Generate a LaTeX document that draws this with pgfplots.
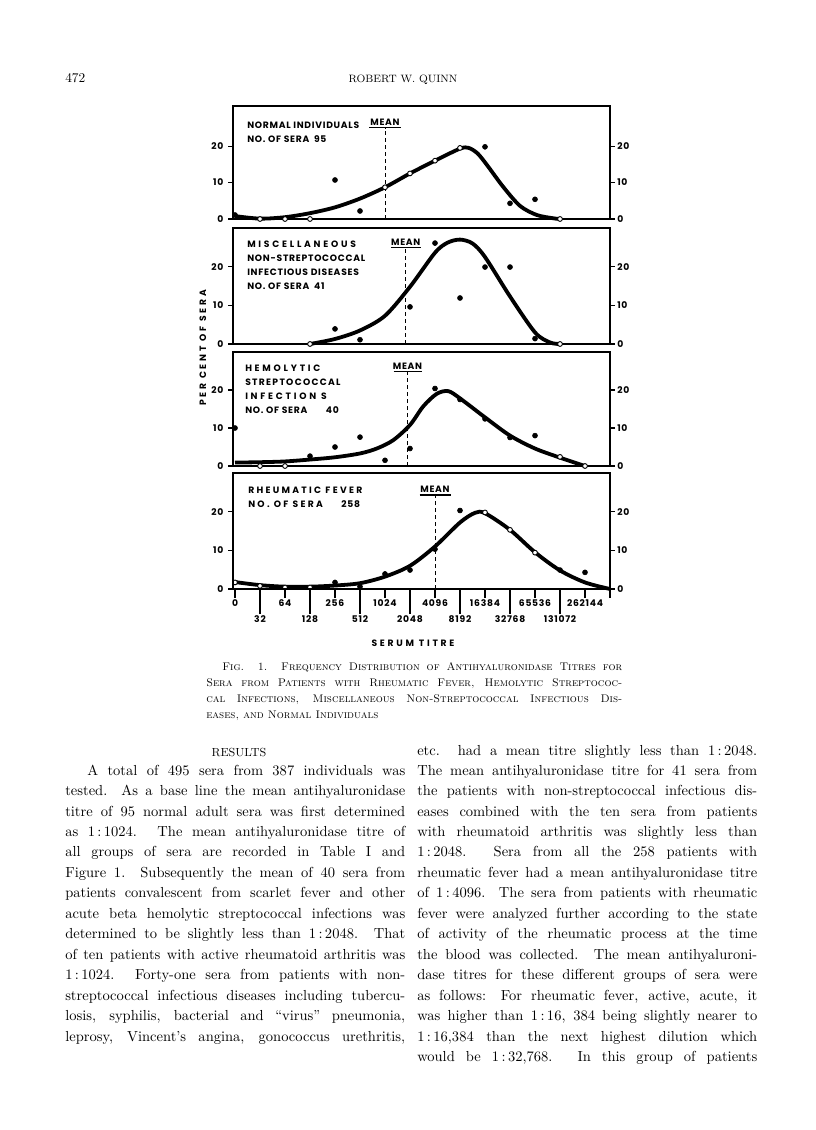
\documentclass[border=0pt]{standalone}
\usepackage{fontspec}
\usepackage{pgfplots}
\pgfplotsset{compat=1.18}
\newfontfamily\lett{Poppins}[LetterSpace=8]
\newlength\px
\setlength\px{0.75pt}
\newcommand\lf{\lett\bfseries\fontsize{6.9pt}{10.5pt}\selectfont}
\newcommand\bodyfont{\fontsize{10.9pt}{14pt}\selectfont\addfontfeature{FakeBold=0.2}}
\newcommand\capfont{\fontsize{8.3pt}{10pt}\selectfont\scshape\addfontfeature{FakeBold=0.15}}
\newcommand\ratio[2]{#1\thinspace:\thinspace#2}
% body lines: left x=65, right x=417, column width 340px
\newcommand\Lline[2]{\node[anchor=base west,inner sep=0] at (65,-#1) {\bodyfont\makebox[340\px][s]{#2}};}
\newcommand\Rline[2]{\node[anchor=base west,inner sep=0] at (417,-#1) {\bodyfont\makebox[340\px][s]{#2}};}

\tikzset{
  meandash/.style={black, line width=1\px, dash pattern=on 4\px off 3\px},
  panellab/.style={anchor=north west, align=left, font=\lf, inner sep=0},
}
\pgfplotsset{
  panel/.style={
    scale only axis, width=282.75pt, anchor=north west,
    xmin=-0.08, xmax=15, ymin=0, ymax=30,
    axis line style={line width=1.1\px},
    ytick={0,10,20}, yticklabels={0,10,20},
    tick align=outside, major tick length=5\px,
    every tick/.style={black, line width=1.1\px},
    ytick pos=both, yticklabel pos=left,
    xtick=\empty,
    tick label style={font=\lf},
    /pgf/number format/assume math mode=true,
    clip=false,
  },
  curve/.style={black, line width=3.8\px, smooth, no markers},
  filled/.style={black, only marks, mark=*, mark size=2.5\px},
  open/.style={only marks, mark=*, mark size=2.4\px,
    mark options={fill=white, draw=black, line width=0.9\px}},
}
\newcommand\rightlabels{%
  \pgfplotsinvokeforeach{0,10,20}{%
    \node[anchor=west, font=\lf, inner sep=0] at ([xshift=7\px]axis cs:15,##1) {##1};}}

\begin{document}
\begin{tikzpicture}[x=0.75pt,y=0.75pt]
\useasboundingbox (0,0) rectangle (816,-1130);
\fill[white] (0,0) rectangle (816,-1130);

% page header
\node[anchor=base west, inner sep=0] at (65,-83) {\fontsize{10pt}{11pt}\selectfont\addfontfeature{FakeBold=0.3}472};
\node[anchor=base, inner sep=0] at (403,-83) {\fontsize{8pt}{10pt}\selectfont\addfontfeature{LetterSpace=8,FakeBold=0.3}ROBERT W. QUINN};

% panel 1: normal individuals
\begin{axis}[panel, at={(174.75pt,-79.5pt)}, height=84.75pt, ymax=31]
\addplot[curve] coordinates {(0,0.8) (1,0.1) (2,0.5) (3,1.6) (4,3.2) (5,5.6) (6,8.7)
  (7,12.5) (8,16) (9,19.3) (9.35,19.5) (9.7,18) (10.07,14.9) (10.73,8.8)
  (11.4,3.6) (12.07,1.1) (12.73,0.2) (13,0)};
\addplot[filled] coordinates {(0,1.1) (4,10.7) (5,2.2) (10,19.8) (11,4.3) (12,5.4)};
\addplot[open] coordinates {(1,0) (2,0) (3,0) (6,8.7) (7,12.5) (8,16) (9,19.5) (13,0)};
\draw[meandash] (axis cs:6,0) -- (axis cs:6,25.1);
\draw[line width=1.1\px] ([xshift=-16\px]axis cs:6,25.1) -- ([xshift=16\px]axis cs:6,25.1);
\node[font=\lf, anchor=south, inner sep=2\px] at (axis cs:6,25.1) {MEAN};
\node[panellab] at ([xshift=14\px,yshift=-16\px]rel axis cs:0,1)
  {NORMAL INDIVIDUALS\\NO. OF SERA\enspace 95};
\rightlabels
\end{axis}

% panel 2: miscellaneous
\begin{axis}[panel, at={(174.75pt,-171pt)}, height=87pt]
\addplot[curve] coordinates {(3,0) (4,1.3) (5,3.5) (6,7.3) (7,14.8) (8,23.6)
  (8.5,26.2) (9,27) (9.5,26) (10,22.5) (11,12.3) (12,3) (12.6,0.4) (13,0)};
\addplot[filled] coordinates {(4,3.9) (5,1.1) (7,9.6) (8,26.1) (9,11.9) (10,19.9) (11,19.9) (12,1.4)};
\addplot[open] coordinates {(3,0) (13,0)};
\draw[meandash] (axis cs:6.83,0) -- (axis cs:6.83,25);
\draw[line width=1.1\px] ([xshift=-15\px]axis cs:6.83,25) -- ([xshift=15\px]axis cs:6.83,25);
\node[font=\lf, anchor=south, inner sep=2\px] at (axis cs:6.83,25) {MEAN};
\node[panellab] at ([xshift=14\px,yshift=-13\px]rel axis cs:0,1)
  {{\addfontfeature{LetterSpace=30}MISCELLANEOUS}\\NON-STREPTOCOCCAL\\INFECTIOUS DISEASES\\NO. OF SERA\enspace 41};
\rightlabels
\end{axis}

% panel 3: hemolytic streptococcal infections
\begin{axis}[panel, at={(174.75pt,-264pt)}, height=85.5pt]
\addplot[curve] coordinates {(0,0.9) (1,1) (2,1.2) (3,1.7) (4,2.3) (5,3.3) (5.67,4.6)
  (6.33,6.8) (7,10.8) (7.53,15.7) (8.07,19) (8.53,19.7) (9,17.8) (10,12.8)
  (11,8) (12,4.6) (13,2.2) (14,0)};
\addplot[filled] coordinates {(0,10) (3,2.6) (4,5) (5,7.6) (6,1.5) (7,4.6) (8,20.4)
  (9,17.5) (10,12.4) (11,7.5) (12,8)};
\addplot[open] coordinates {(1,0) (2,0) (13,2.4) (14,0)};
\draw[meandash] (axis cs:6.9,0) -- (axis cs:6.9,24.9);
\draw[line width=1.1\px] ([xshift=-14\px]axis cs:6.9,24.9) -- ([xshift=14\px]axis cs:6.9,24.9);
\node[font=\lf, anchor=south, inner sep=2\px] at (axis cs:6.9,24.9) {MEAN};
\node[panellab] at ([xshift=12\px,yshift=-13\px]rel axis cs:0,1)
  {{\addfontfeature{LetterSpace=30}HEMOLYTIC}\\{\addfontfeature{LetterSpace=14}STREPTOCOCCAL}\\{\addfontfeature{LetterSpace=30}INFECTION S}\\NO. OF SERA\qquad 40};
\rightlabels
\end{axis}

% panel 4: rheumatic fever
\begin{axis}[panel, at={(174.75pt,-354.75pt)}, height=87pt]
\addplot[curve] coordinates {(0,1.8) (1,1) (2,0.6) (3,0.6) (4,0.9) (5,1.5) (6,3.2)
  (7,6) (8,11) (9,17.2) (9.6,19.7) (10,19.6) (11,15.3) (12,9.5) (13,4.8)
  (14,1.7) (15,0)};
\addplot[filled] coordinates {(4,1.7) (5,0.6) (6,3.9) (7,4.9) (8,10.3) (9,20.3) (13,4.9) (14,4.3)};
\addplot[open] coordinates {(0,1.7) (1,0.8) (2,0.4) (3,0.4) (10,19.8) (11,15.3) (12,9.4)};
\draw[meandash] (axis cs:8,0) -- (axis cs:8,24.3);
\draw[line width=1.1\px] ([xshift=-15.5\px]axis cs:8,24.3) -- ([xshift=15.5\px]axis cs:8,24.3);
\node[font=\lf, anchor=south, inner sep=2\px] at (axis cs:8,24.3) {MEAN};
\node[panellab] at ([xshift=15\px,yshift=-14\px]rel axis cs:0,1)
  {{\addfontfeature{LetterSpace=25}RHEUMATIC FEVER}\\{\addfontfeature{LetterSpace=25}NO. OF SERA}\qquad 258};
\rightlabels
\end{axis}

% serum titre scale under panel 4
\begin{axis}[scale only axis, width=282.75pt, height=87pt, anchor=north west,
  at={(174.75pt,-354.75pt)},
  xmin=-0.08, xmax=15, ymin=0, ymax=30,
  axis line style={line width=1.1\px}, ytick=\empty,
  xtick pos=left, tick align=outside, major tick length=9\px,
  every tick/.style={black, line width=1.1\px},
  xtick={0,2,4,6,8,10,12,14,15},
  xticklabels={0,64,256,1024,4096,16384,65536,262144,{}},
  extra x ticks={1,3,5,7,9,11,13},
  extra x tick labels={32,128,512,2048,8192,32768,131072},
  extra x tick style={major tick length=25\px},
  tick label style={font=\lf, inner sep=1.5\px},
  /pgf/number format/assume math mode=true]
\addplot[draw=none] coordinates {(0,0)};
\end{axis}

\node[font=\lf\addfontfeature{LetterSpace=30}] at (203,-348) [rotate=90] {PER CENT OF SERA};
\node[font=\lf\addfontfeature{LetterSpace=30}] at (413,-643) {SERUM TITRE};

% caption
\node[anchor=base west, inner sep=0] at (222,-670) {\capfont\makebox[400\px][s]{Fig. 1. Frequency Distribution of Antihyaluronidase Titres for}};
\node[anchor=base west, inner sep=0] at (206,-686) {\capfont\makebox[416\px][s]{Sera from Patients with Rheumatic Fever, Hemolytic Streptococ-}};
\node[anchor=base west, inner sep=0] at (206,-702) {\capfont\makebox[416\px][s]{cal Infections, Miscellaneous Non-Streptococcal Infectious Dis-}};
\node[anchor=base west, inner sep=0] at (206,-718) {\capfont eases, and Normal Individuals};

% body text, left column
\node[anchor=base, inner sep=0] at (239,-756) {\fontsize{8.8pt}{10pt}\selectfont\addfontfeature{LetterSpace=8,FakeBold=0.2}RESULTS};
\Lline{775}{\hspace*{22\px}A total of 495 sera from 387 individuals was}
\Lline{795.5}{tested. As a base line the mean antihyaluronidase}
\Lline{816}{titre of 95 normal adult sera was first determined}
\Lline{836.4}{as \ratio{1}{1024}. The mean antihyaluronidase titre of}
\Lline{856.9}{all groups of sera are recorded in Table I and}
\Lline{877.4}{Figure 1. Subsequently the mean of 40 sera from}
\Lline{897.8}{patients convalescent from scarlet fever and other}
\Lline{918.3}{acute beta hemolytic streptococcal infections was}
\Lline{938.8}{determined to be slightly less than \ratio{1}{2048}. That}
\Lline{959.2}{of ten patients with active rheumatoid arthritis was}
\Lline{979.7}{\ratio{1}{1024}. Forty-one sera from patients with non-}
\Lline{1000.2}{streptococcal infectious diseases including tubercu-}
\Lline{1020.6}{losis, syphilis, bacterial and ``virus'' pneumonia,}
\Lline{1041.1}{leprosy, Vincent's angina, gonococcus urethritis,}

% body text, right column
\Rline{755}{etc. had a mean titre slightly less than \ratio{1}{2048}.}
\Rline{775}{The mean antihyaluronidase titre for 41 sera from}
\Rline{795.5}{the patients with non-streptococcal infectious dis-}
\Rline{816}{eases combined with the ten sera from patients}
\Rline{836.4}{with rheumatoid arthritis was slightly less than}
\Rline{856.9}{\ratio{1}{2048}. Sera from all the 258 patients with}
\Rline{877.4}{rheumatic fever had a mean antihyaluronidase titre}
\Rline{897.8}{of \ratio{1}{4096}. The sera from patients with rheumatic}
\Rline{918.3}{fever were analyzed further according to the state}
\Rline{938.8}{of activity of the rheumatic process at the time}
\Rline{959.2}{the blood was collected. The mean antihyaluroni-}
\Rline{979.7}{dase titres for these different groups of sera were}
\Rline{1000.2}{as follows: For rheumatic fever, active, acute, it}
\Rline{1020.6}{was higher than \ratio{1}{16, 384} being slightly nearer to}
\Rline{1041.1}{\ratio{1}{16,384} than the next highest dilution which}
\Rline{1061.6}{would be \ratio{1}{32,768}. In this group of patients}
\end{tikzpicture}
\end{document}
